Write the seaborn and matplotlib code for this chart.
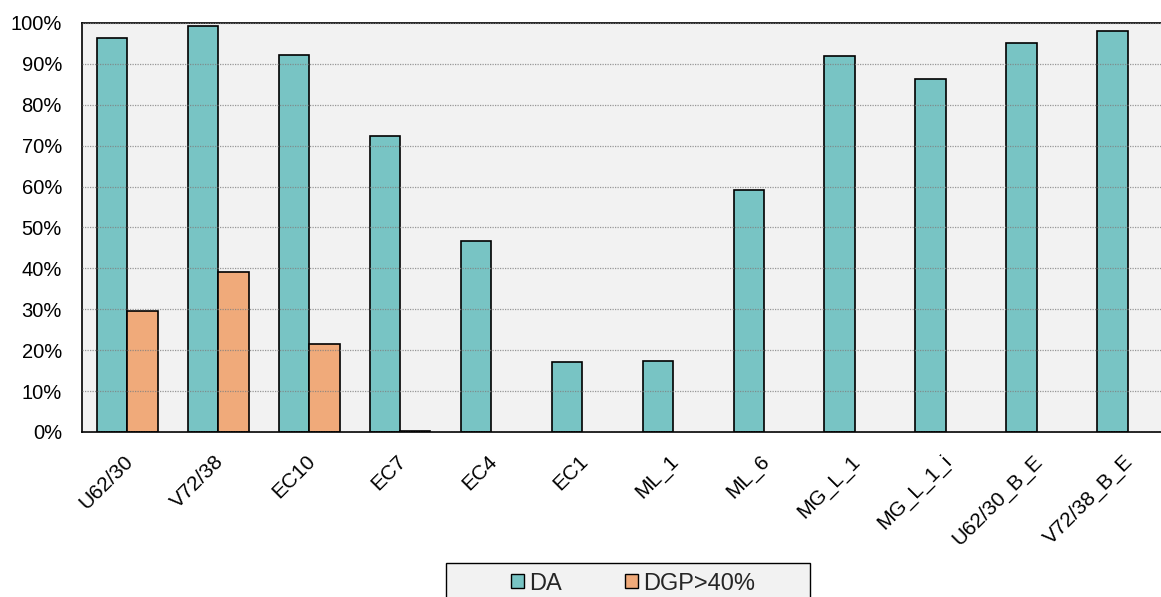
import pandas as pd
import seaborn as sns
import matplotlib.pyplot as plt
from matplotlib.patches import Rectangle
from matplotlib.transforms import ScaledTranslation
from matplotlib.ticker import PercentFormatter, FixedLocator

categories = ['U62/30', 'V72/38', 'EC10', 'EC7', 'EC4', 'EC1', 'ML_1', 'ML_6',
              'MG_L_1', 'MG_L_1_i', 'U62/30_B_E', 'V72/38_B_E']
da = [96.3, 99.2, 92.2, 72.4, 46.8, 17.2, 17.4, 59.2, 92.0, 86.4, 95.0, 98.0]
dgp = [29.6, 39.2, 21.5, 0.3, 0, 0, 0, 0, 0, 0, 0, 0]
series = ['DA', 'DGP>40%']
colors = ['#78C4C4', '#F0AA7A']

df = pd.DataFrame({
    'cat': categories * 2,
    'val': da + dgp,
    'series': [series[0]] * len(da) + [series[1]] * len(dgp),
})

sns.set_style('white')
plt.rcParams['font.family'] = ['Liberation Sans', 'DejaVu Sans']

fig, ax = plt.subplots(figsize=(11.61, 5.97), dpi=100)
# plot area runs a little past the right edge, like the original crop
fig.subplots_adjust(left=0.0706, right=1.0103, top=0.9615, bottom=0.2764)

sns.barplot(data=df, x='cat', y='val', hue='series', palette=colors,
            width=0.667, edgecolor='black', linewidth=1.2, saturation=1,
            ax=ax, legend=True)

# zero-height bars leave no outline in the original
for p in ax.patches:
    if p.get_height() == 0:
        p.set_linewidth(0)

ax.set_facecolor('#F2F2F2')
ax.set_ylim(0, 100)
ax.set_xlim(-0.5, len(categories) - 0.5)
ax.yaxis.set_major_locator(FixedLocator(range(0, 101, 10)))
ax.yaxis.set_major_formatter(PercentFormatter(decimals=0))
ax.set_axisbelow(False)
ax.yaxis.grid(True, color='#808080', linestyle=(0, (1, 1)), linewidth=0.9, alpha=0.8)
ax.xaxis.grid(False)

for s in ['left', 'bottom', 'top']:
    ax.spines[s].set_visible(True)
    ax.spines[s].set_color('black')
    ax.spines[s].set_linewidth(1.2)
ax.spines['right'].set_visible(False)

ax.set_xlabel('')
ax.set_ylabel('')
ax.tick_params(axis='y', length=0, labelsize=14.5, pad=14.4, labelcolor='black')
ax.tick_params(axis='x', which='major', length=0, labelsize=15, pad=14, labelcolor='black')
ax.set_xticks(range(len(categories)))
ax.set_xticklabels(categories, rotation=45, ha='right', rotation_mode='anchor')
shift = ScaledTranslation(-4 / 100, 0, fig.dpi_scale_trans)
for lbl in ax.get_xticklabels():
    lbl.set_transform(lbl.get_transform() + shift)
ax.set_xticks([i - 0.5 for i in range(len(categories) + 1)], minor=True)
ax.tick_params(axis='x', which='minor', length=5, width=1.2, color='black', direction='out')

handles, labels = ax.get_legend_handles_labels()
ax.get_legend().remove()

fig.add_artist(Rectangle((446 / 1161, -0.02), 364 / 1161, (597 - 563) / 597 + 0.02,
                         transform=fig.transFigure, facecolor='#F2F2F2',
                         edgecolor='black', linewidth=1.0, zorder=1))
leg = fig.legend(handles, labels, loc='center', bbox_to_anchor=(633 / 1161, 1 - 583.5 / 597),
                 ncol=2, fontsize=17, frameon=False, borderaxespad=0, borderpad=0,
                 handlelength=0.52, handleheight=0.52, handletextpad=0.22,
                 columnspacing=2.7)
leg.set_zorder(2)
for h in leg.legend_handles:
    h.set_edgecolor('black')
    h.set_linewidth(1.0)

plt.savefig('out.png', dpi=100)
